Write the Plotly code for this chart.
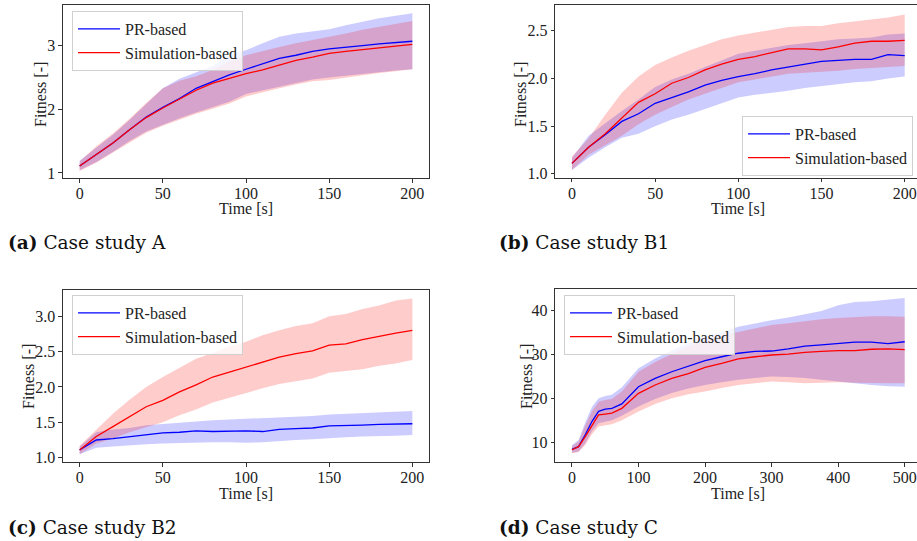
import plotly.graph_objects as go

# ---------------- data ----------------
T_200 = [0, 10, 20, 30, 40, 50, 60, 70, 80, 90, 100, 110, 120, 130, 140, 150, 160, 170, 180, 190, 200]
T_500 = [0, 10, 20, 30, 40, 50, 60, 75, 100, 125, 150, 175, 200, 225, 250, 275, 300, 325, 350, 375, 400, 425, 450, 475, 500]

# (a) Case study A
A_PR_MEAN = [1.11, 1.29, 1.47, 1.68, 1.88, 2.03, 2.17, 2.33, 2.44, 2.54, 2.63, 2.71, 2.80, 2.85, 2.91, 2.95, 2.97, 3.00, 3.03, 3.05, 3.07]
A_PR_LO = [1.04, 1.17, 1.33, 1.50, 1.65, 1.76, 1.86, 1.95, 2.03, 2.12, 2.24, 2.30, 2.36, 2.42, 2.47, 2.50, 2.53, 2.56, 2.59, 2.61, 2.63]
A_PR_HI = [1.19, 1.40, 1.60, 1.83, 2.08, 2.33, 2.48, 2.58, 2.68, 2.86, 2.93, 3.04, 3.14, 3.19, 3.23, 3.26, 3.32, 3.38, 3.43, 3.47, 3.51]
A_SIM_MEAN = [1.11, 1.29, 1.47, 1.68, 1.87, 2.02, 2.16, 2.30, 2.41, 2.49, 2.56, 2.62, 2.70, 2.77, 2.82, 2.88, 2.91, 2.94, 2.97, 3.00, 3.02]
A_SIM_LO = [1.03, 1.16, 1.32, 1.48, 1.63, 1.74, 1.84, 1.93, 2.01, 2.09, 2.20, 2.27, 2.33, 2.39, 2.44, 2.46, 2.50, 2.54, 2.57, 2.60, 2.63]
A_SIM_HI = [1.18, 1.42, 1.62, 1.85, 2.10, 2.33, 2.45, 2.52, 2.62, 2.75, 2.85, 2.92, 2.98, 3.04, 3.09, 3.13, 3.19, 3.25, 3.30, 3.35, 3.39]

# (b) Case study B1
B1_PR_MEAN = [1.11, 1.28, 1.41, 1.55, 1.63, 1.74, 1.80, 1.86, 1.93, 1.98, 2.02, 2.05, 2.09, 2.12, 2.15, 2.18, 2.19, 2.20, 2.20, 2.25, 2.24]
B1_PR_LO = [1.04, 1.17, 1.28, 1.38, 1.42, 1.50, 1.57, 1.62, 1.68, 1.74, 1.80, 1.83, 1.85, 1.87, 1.90, 1.92, 1.94, 1.96, 1.97, 2.00, 2.02]
B1_PR_HI = [1.17, 1.40, 1.53, 1.66, 1.78, 1.91, 1.99, 2.05, 2.12, 2.19, 2.26, 2.29, 2.32, 2.35, 2.37, 2.39, 2.41, 2.42, 2.43, 2.46, 2.47]
B1_SIM_MEAN = [1.11, 1.28, 1.42, 1.58, 1.75, 1.84, 1.95, 2.01, 2.09, 2.15, 2.20, 2.23, 2.27, 2.31, 2.31, 2.30, 2.33, 2.37, 2.39, 2.39, 2.40]
B1_SIM_LO = [1.04, 1.20, 1.30, 1.40, 1.52, 1.62, 1.70, 1.78, 1.84, 1.90, 1.96, 1.99, 2.02, 2.05, 2.06, 2.07, 2.08, 2.10, 2.11, 2.12, 2.13]
B1_SIM_HI = [1.18, 1.37, 1.62, 1.85, 2.02, 2.14, 2.22, 2.29, 2.35, 2.41, 2.45, 2.48, 2.51, 2.54, 2.55, 2.55, 2.58, 2.60, 2.62, 2.64, 2.67]

# (c) Case study B2
B2_PR_MEAN = [1.11, 1.25, 1.27, 1.30, 1.32, 1.35, 1.36, 1.38, 1.37, 1.38, 1.38, 1.37, 1.40, 1.41, 1.42, 1.45, 1.45, 1.46, 1.47, 1.47, 1.48]
B2_PR_LO = [1.05, 1.14, 1.16, 1.18, 1.19, 1.20, 1.21, 1.22, 1.22, 1.22, 1.21, 1.22, 1.24, 1.25, 1.26, 1.28, 1.29, 1.30, 1.30, 1.31, 1.32]
B2_PR_HI = [1.16, 1.36, 1.40, 1.42, 1.46, 1.48, 1.50, 1.52, 1.53, 1.54, 1.55, 1.55, 1.57, 1.58, 1.59, 1.61, 1.62, 1.62, 1.63, 1.64, 1.66]
B2_SIM_MEAN = [1.11, 1.30, 1.44, 1.58, 1.72, 1.81, 1.93, 2.03, 2.14, 2.21, 2.28, 2.36, 2.42, 2.47, 2.51, 2.59, 2.61, 2.67, 2.72, 2.76, 2.80]
B2_SIM_LO = [1.05, 1.20, 1.27, 1.36, 1.43, 1.50, 1.60, 1.68, 1.78, 1.85, 1.91, 1.98, 2.04, 2.08, 2.12, 2.20, 2.22, 2.25, 2.30, 2.33, 2.38]
B2_SIM_HI = [1.17, 1.40, 1.62, 1.82, 2.00, 2.14, 2.27, 2.40, 2.48, 2.57, 2.64, 2.73, 2.80, 2.86, 2.90, 3.00, 3.03, 3.10, 3.15, 3.22, 3.25]

# (d) Case study C
C_PR_MEAN = [8.4, 9.0, 11.7, 14.7, 17.0, 17.5, 17.7, 18.7, 22.6, 24.5, 26.0, 27.3, 28.5, 29.4, 30.2, 30.6, 30.7, 31.2, 31.8, 32.1, 32.4, 32.7, 32.7, 32.4, 32.8]
C_PR_LO = [7.6, 7.9, 9.8, 12.5, 14.3, 14.7, 15.0, 16.0, 18.1, 19.8, 21.2, 22.2, 23.0, 23.6, 24.2, 24.6, 24.9, 24.8, 24.6, 24.2, 23.8, 23.3, 23.0, 22.7, 22.6]
C_PR_HI = [9.3, 10.5, 14.5, 18.0, 20.0, 20.5, 20.8, 22.5, 26.8, 29.0, 30.8, 32.5, 34.0, 35.0, 36.2, 37.0, 37.7, 38.3, 39.0, 39.8, 41.1, 41.8, 42.0, 42.3, 42.7]
C_SIM_MEAN = [8.3, 9.0, 11.3, 13.9, 16.2, 16.4, 16.6, 17.7, 21.1, 23.0, 24.5, 25.6, 27.0, 27.9, 28.9, 29.4, 29.8, 30.0, 30.4, 30.6, 30.8, 30.8, 31.1, 31.2, 31.0]
C_SIM_LO = [7.5, 7.8, 9.4, 11.8, 13.6, 13.9, 14.1, 15.0, 17.0, 18.7, 20.0, 20.9, 21.5, 22.3, 23.0, 23.4, 23.8, 23.6, 23.4, 23.5, 23.6, 23.5, 23.4, 23.4, 23.4]
C_SIM_HI = [9.1, 10.2, 13.8, 17.0, 19.2, 19.6, 19.8, 21.5, 26.0, 28.2, 30.0, 31.8, 33.2, 34.2, 35.0, 35.8, 36.6, 37.0, 37.5, 37.9, 38.2, 38.4, 38.6, 38.6, 38.5]

SERIES_NAMES = ["PR-based", "Simulation-based"]
CAPTIONS = [("(a)", "Case study A"), ("(b)", "Case study B1"), ("(c)", "Case study B2"), ("(d)", "Case study C")]
X_TICKS_200 = [0, 50, 100, 150, 200]
X_TICKS_500 = [0, 100, 200, 300, 400, 500]

# ---------------- layout helpers ----------------
W, H = 917, 541
TICK_FONT = dict(family="Liberation Serif", size=16, color="#222")
FRAME = "#333"

def px(v):
    return v / W

def py(v):
    return 1 - v / H

fig = go.Figure()

panels = [
    dict(t=T_200, pr=(A_PR_MEAN, A_PR_LO, A_PR_HI), sim=(A_SIM_MEAN, A_SIM_LO, A_SIM_HI),
         xd=(63, 429), yd=(5, 178), xr=[-10, 210], yr=[0.92, 3.64], xt=X_TICKS_200, yt=[1, 2, 3],
         ytxt=["1", "2", "3"], mirror_all=True, leg=(72, 11), fit=(40, 95), time=(246, 208)),
    dict(t=T_200, pr=(B1_PR_MEAN, B1_PR_LO, B1_PR_HI), sim=(B1_SIM_MEAN, B1_SIM_LO, B1_SIM_HI),
         xd=(555.3, 917), yd=(5, 177.7), xr=[-10, 207.4], yr=[0.96, 2.77], xt=X_TICKS_200, yt=[1.0, 1.5, 2.0, 2.5],
         ytxt=["1.0", "1.5", "2.0", "2.5"], mirror_all=False, leg=(742, 116), fit=(520, 95), time=(738, 208)),
    dict(t=T_200, pr=(B2_PR_MEAN, B2_PR_LO, B2_PR_HI), sim=(B2_SIM_MEAN, B2_SIM_LO, B2_SIM_HI),
         xd=(63, 429), yd=(290, 462.3), xr=[-10, 210], yr=[0.935, 3.37], xt=X_TICKS_200, yt=[1.0, 1.5, 2.0, 2.5, 3.0],
         ytxt=["1.0", "1.5", "2.0", "2.5", "3.0"], mirror_all=True, leg=(72, 295), fit=(28, 377), time=(246, 493)),
    dict(t=T_500, pr=(C_PR_MEAN, C_PR_LO, C_PR_HI), sim=(C_SIM_MEAN, C_SIM_LO, C_SIM_HI),
         xd=(555.3, 917), yd=(289.3, 462.3), xr=[-25, 518.5], yr=[5.46, 44.7], xt=X_TICKS_500, yt=[10, 20, 30, 40],
         ytxt=["10", "20", "30", "40"], mirror_all=False, leg=(564, 295), fit=(526, 377), time=(738, 493)),
]

layout_axes = {}
annotations = []
legends = {}

for i, p in enumerate(panels, start=1):
    sx = "" if i == 1 else str(i)
    xa, ya = "x" + sx, "y" + sx
    leg = "legend" + sx
    t = p["t"]
    # bands
    for (mean, lo, hi), col in [(p["pr"], "rgba(0,0,255,0.2)"), (p["sim"], "rgba(255,0,0,0.2)")]:
        fig.add_trace(go.Scatter(x=t, y=lo, mode="lines", line=dict(width=0), showlegend=False,
                                 hoverinfo="skip", xaxis=xa, yaxis=ya))
        fig.add_trace(go.Scatter(x=t, y=hi, mode="lines", line=dict(width=0), fill="tonexty",
                                 fillcolor=col, showlegend=False, hoverinfo="skip", xaxis=xa, yaxis=ya))
    # mean lines
    for (mean, lo, hi), col, name in [(p["pr"], "blue", SERIES_NAMES[0]), (p["sim"], "red", SERIES_NAMES[1])]:
        fig.add_trace(go.Scatter(x=t, y=mean, mode="lines", line=dict(color=col, width=1.3),
                                 name=name, legend=leg, xaxis=xa, yaxis=ya))

    layout_axes["xaxis" + sx] = dict(
        domain=[px(p["xd"][0]), min(1.0, px(p["xd"][1]))], range=p["xr"], anchor=ya,
        tickvals=p["xt"], ticktext=[str(v) for v in p["xt"]],
        showline=True, linecolor=FRAME, linewidth=1.2, mirror=True,
        ticks="outside", ticklen=3.5, tickcolor=FRAME, tickwidth=1, tickfont=TICK_FONT,
        ticklabelstandoff=-3,
        showgrid=False, zeroline=False, automargin=False,
    )
    layout_axes["yaxis" + sx] = dict(
        domain=[py(p["yd"][1]), py(p["yd"][0])], range=p["yr"], anchor=xa,
        tickvals=p["yt"], ticktext=p["ytxt"],
        showline=True, linecolor=FRAME, linewidth=1.2, mirror=p["mirror_all"],
        ticks="outside", ticklen=3.5, tickcolor=FRAME, tickwidth=1, tickfont=TICK_FONT,
        showgrid=False, zeroline=False, automargin=False,
    )
    legends[leg] = dict(
        x=px(p["leg"][0]), y=py(p["leg"][1]), xanchor="left", yanchor="top",
        bgcolor="rgba(255,255,255,0.8)", bordercolor="#d0d0d0", borderwidth=1,
        font=dict(family="Liberation Serif", size=16, color="#222"),
        traceorder="normal", tracegroupgap=0, itemwidth=42,
    )
    # axis titles
    annotations.append(dict(text="Time [s]", x=px(p["time"][0]), y=py(p["time"][1]), xref="paper", yref="paper",
                            showarrow=False, xanchor="center", yanchor="middle",
                            font=dict(family="Liberation Serif", size=16, color="#222")))
    annotations.append(dict(text="Fitness [-]", x=px(p["fit"][0]), y=py(p["fit"][1]), xref="paper", yref="paper",
                            showarrow=False, xanchor="center", yanchor="middle", textangle=-90,
                            font=dict(family="Liberation Serif", size=16, color="#222")))

# captions
cap_pos = [(6, 242), (497, 242), (6, 527), (497, 527)]
for (lab, txt), (cx, cy) in zip(CAPTIONS, cap_pos):
    annotations.append(dict(text="<b>" + lab + "</b> " + txt, x=px(cx), y=py(cy), xref="paper", yref="paper",
                            showarrow=False, xanchor="left", yanchor="middle",
                            font=dict(family="DejaVu Serif", size=18.5, color="#111")))

fig.update_layout(
    width=W, height=H, margin=dict(l=0, r=0, t=0, b=0),
    paper_bgcolor="white", plot_bgcolor="white",
    annotations=annotations, **layout_axes, **legends,
)

fig.write_html("out.html", config={"displayModeBar": False},
               post_script="document.body.style.margin='0px';")
